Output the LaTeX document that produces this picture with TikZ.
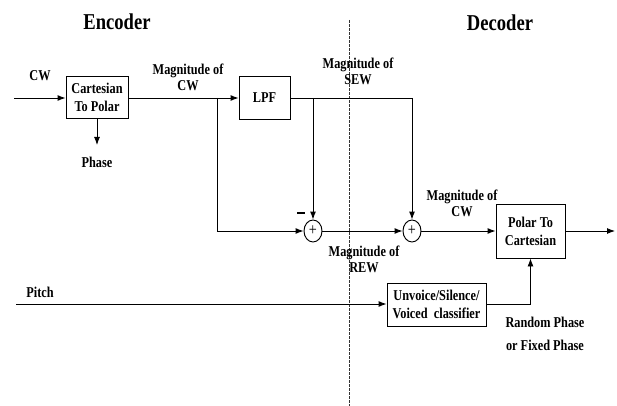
\documentclass[tikz,border=0pt]{standalone}
\usepackage{fontspec}
\setmainfont[FakeStretch=0.82]{Liberation Serif}
\usepackage{tikz}
\usetikzlibrary{positioning,arrows.meta,shapes.geometric,calc}

\begin{document}
\begin{tikzpicture}[
  x=0.75pt, y=-0.75pt, >={Latex[length=6pt,width=4.5pt]},
  font=\fontsize{11.25}{12}\selectfont\bfseries,
  blk/.style={draw, line width=0.7pt, inner sep=0pt, align=center,
              font=\fontsize{11.25}{13.5}\selectfont\bfseries},
  sumnode/.style={draw, ellipse, line width=0.7pt, minimum width=18*0.75pt,
                  minimum height=22*0.75pt, inner sep=0pt,
                  font=\fontsize{13}{13}\selectfont},
  lbl/.style={align=center, inner sep=0pt},
  ttl/.style={font=\fontsize{17}{18}\selectfont\bfseries, inner sep=0pt},
  arr/.style={->, line width=0.7pt},
  ln/.style={line width=0.7pt},
]
\useasboundingbox (0,0) rectangle (617,406);

\node[ttl] (enc) at (117,22) {Encoder};
\node[ttl] (dec) at (500,23) {Decoder};
\draw[dashed, dash pattern=on 2pt off 1pt, line width=0.5pt, black!80]
  (349,20) coordinate (cut1) -- (349,406) coordinate (cut2);

\node[blk, minimum width=62*0.75pt, minimum height=42*0.75pt] (ctp) at (97,97)
  {Cartesian\\To Polar};
\node[blk, minimum width=51*0.75pt, minimum height=43*0.75pt] (lpf) at (264.5,97.5)
  {LPF};
\node[sumnode] (sum1) at (313,231) {+};
\node[sumnode] (sum2) at (412,231) {+};
\node[blk, minimum width=69*0.75pt, minimum height=54*0.75pt] (ptc) at (530.5,231)
  {Polar To\\Cartesian};
\node[blk, minimum width=99*0.75pt, minimum height=43*0.75pt] (uvc) at (436.5,304.5)
  {Unvoice/Silence/\\Voiced\ \ classifier};

% labels
\node[lbl] (lcw) at (40,76) {CW};
\node[lbl] (lphase) at (97,162) {Phase};
\node[lbl] (lmagcw) at (188,77) {Magnitude of\\CW};
\node[lbl] (lsew) at (358,71) {Magnitude of\\SEW};
\node[lbl] (lrew) at (364,259) {Magnitude of\\REW};
\node[lbl] (lmagcw2) at (462,203) {Magnitude of\\CW};
\node[lbl] (lpitch) at (40,292) {Pitch};
\node[lbl, font=\fontsize{11.25}{17}\selectfont\bfseries] (lrand) at (545,334)
  {Random Phase\\or Fixed Phase};
\node[inner sep=0pt] (minus) at (301,213) {\rule{5.5pt}{2pt}};

% connectors
\coordinate (cwin) at (14,98);
\coordinate (phout) at (97,145);
\coordinate (br1) at (217,98);
\coordinate (br2) at (313,98);
\coordinate (corner) at (412,98);
\coordinate (pin) at (16,304);
\coordinate (out) at (615,231);

\draw[arr] (cwin) -- (ctp.west |- cwin);
\draw[arr] (ctp.south) -- (phout);
\draw[arr] (ctp.east |- br1) -- (lpf.west |- br1);
\draw[arr] (br1) |- (sum1.west);
\draw[ln] (lpf.east |- br1) -- (corner);
\draw[arr] (br2) -- (sum1.north);
\draw[arr] (corner) -- (sum2.north);
\draw[arr] (sum1.east) -- (sum2.west);
\draw[arr] (sum2.east) -- (ptc.west);
\draw[arr] (ptc.east) -- (out);
\draw[arr] (pin) -- (uvc.west |- pin);
\draw[arr] (uvc.east |- pin) -| (ptc.south);
\end{tikzpicture}
\end{document}
